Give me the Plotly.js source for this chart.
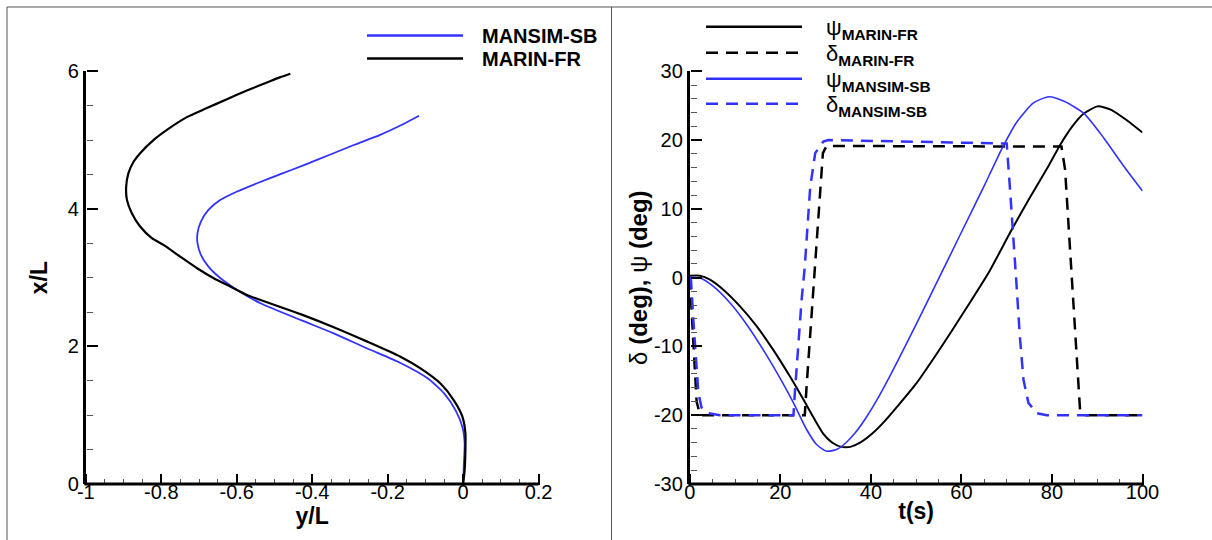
<!DOCTYPE html>
<html>
<head>
<meta charset="utf-8">
<script src="https://cdn.plot.ly/plotly-3.0.1.min.js"></script>
<style>
  html, body { margin: 0; padding: 0; background: #fff; }
  #chart { width: 1212px; height: 540px; }
</style>
</head>
<body>
<div id="chart"></div>
<script>
// ---------- Left panel: trajectories (y/L horizontal, x/L vertical) ----------
const mansimTrajY = [0, 0.002, 0.004, -0.002, -0.02, -0.051, -0.095, -0.166, -0.254, -0.343, -0.431, -0.537, -0.599, -0.643, -0.675, -0.695, -0.704, -0.704, -0.695, -0.675, -0.643, -0.599, -0.546, -0.484, -0.42, -0.355, -0.29, -0.22, -0.165, -0.117];
const mansimTrajX = [0, 0.30, 0.59, 0.83, 1.07, 1.32, 1.54, 1.76, 1.97, 2.19, 2.385, 2.628, 2.822, 2.992, 3.161, 3.331, 3.501, 3.647, 3.815, 3.985, 4.131, 4.252, 4.373, 4.505, 4.640, 4.783, 4.928, 5.075, 5.215, 5.355];

const marinTrajY = [0, 0.004, 0.006, 0.006, -0.002, -0.025, -0.06, -0.113, -0.166, -0.254, -0.343, -0.431, -0.573, -0.617, -0.661, -0.705, -0.75, -0.794, -0.825, -0.856, -0.878, -0.891, -0.893, -0.887, -0.873, -0.856, -0.82, -0.785, -0.732, -0.679, -0.626, -0.573, -0.52, -0.484, -0.458];
const marinTrajX = [0, 0.2, 0.49, 0.74, 0.98, 1.22, 1.46, 1.68, 1.85, 2.07, 2.28, 2.47, 2.749, 2.87, 2.992, 3.137, 3.306, 3.476, 3.574, 3.743, 3.937, 4.131, 4.324, 4.519, 4.688, 4.81, 5.004, 5.149, 5.334, 5.465, 5.595, 5.721, 5.837, 5.915, 5.964];

// ---------- Right panel: heading psi and rudder delta vs time ----------
const psiMarinT = [0, 2.25, 4.46, 7.4, 11.1, 14.8, 18.4, 22.1, 25.1, 27.3, 29.5, 31.5, 33.5, 35.5, 37.6, 40.5, 43, 46, 50, 54, 58, 62, 66, 71.1, 75, 79.3, 81.8, 84.5, 86.9, 90.1, 93.1, 96.6, 100];
const psiMarinV = [0.28, 0.28, -0.3, -1.76, -4.18, -7.09, -10.47, -14.35, -17.73, -20.3, -22.7, -24.0, -24.6, -24.6, -24.0, -22.56, -20.9, -18.6, -15.4, -11.6, -7.6, -3.5, 0.7, 6.96, 11.5, 16.3, 19.3, 22.0, 23.8, 24.9, 24.4, 22.85, 21.1];

const deltaMarinT = [0, 0.4, 0.9, 1.5, 2.3, 25.4, 25.8, 26.6, 27.3, 28.0, 28.8, 29.4, 30.2, 82.1, 82.9, 83.6, 84.4, 85.1, 85.8, 86.2, 87.3, 100];
const deltaMarinV = [0, -5, -12, -18, -20, -20, -15.8, -8.0, -1.3, 6.0, 13.2, 18.1, 19.15, 19.05, 15.7, 8.4, -1.3, -8.5, -15.8, -19.2, -20, -20];

const psiMansimT = [0, 2.25, 5.2, 8.9, 12.6, 16.2, 19.9, 22.9, 25.8, 28.0, 30.2, 32.4, 34.5, 36.5, 39, 42, 45, 50, 55, 60, 65, 68.9, 72.2, 75.9, 79.3, 82.8, 87.1, 91.4, 95.7, 100];
const psiMansimV = [0, -0.06, -1.28, -3.69, -6.84, -10.47, -14.58, -18.21, -22.08, -24.26, -25.23, -25.0, -24.0, -22.6, -20.3, -17.0, -13.3, -6.8, -0.1, 6.6, 13.3, 18.7, 22.6, 25.4, 26.3, 25.6, 23.85, 20.35, 16.35, 12.6];

const deltaMansimT = [0, 0.26, 0.78, 1.3, 1.9, 2.6, 4.1, 6.6, 22.9, 23.2, 24.0, 24.7, 25.4, 25.8, 26.6, 27.7, 29.5, 30.6, 70.0, 70.7, 71.5, 72.2, 72.9, 73.7, 74.8, 76.6, 78.8, 100];
const deltaMansimV = [0, -0.3, -6.1, -11.9, -16.8, -18.9, -19.7, -20, -20, -16.8, -9.5, -3.2, 1.6, 6.0, 13.2, 18.1, 19.8, 20.0, 19.5, 13.2, 6.0, -1.3, -8.5, -14.8, -18.2, -19.7, -20, -20];

// ---------- Tick labels and minor tick positions ----------
const leftXTicks = [-1, -0.8, -0.6, -0.4, -0.2, 0, 0.2];
const leftXTickText = ["-1", "-0.8", "-0.6", "-0.4", "-0.2", "0", "0.2"];
const leftXMinor = [-0.95, -0.9, -0.85, -0.75, -0.7, -0.65, -0.55, -0.5, -0.45, -0.35, -0.3, -0.25, -0.15, -0.1, -0.05, 0.05, 0.1, 0.15];
const leftYTicks = [0, 2, 4, 6];
const leftYTickText = ["0", "2", "4", "6"];
const leftYMinor = [0.5, 1, 1.5, 2.5, 3, 3.5, 4.5, 5, 5.5];
const rightXTicks = [0, 20, 40, 60, 80, 100];
const rightXTickText = ["0", "20", "40", "60", "80", "100"];
const rightXMinor = [5, 10, 15, 25, 30, 35, 45, 50, 55, 65, 70, 75, 85, 90, 95];
const rightYTicks = [-30, -20, -10, 0, 10, 20, 30];
const rightYTickText = ["-30", "-20", "-10", "0", "10", "20", "30"];
const rightYMinor = [-28, -26, -24, -22, -18, -16, -14, -12, -8, -6, -4, -2, 2, 4, 6, 8, 12, 14, 16, 18, 22, 24, 26, 28];

const BLUE = "rgb(50,50,255)";
const BLACK = "#000000";
const FONT = "Liberation Sans, Arial, sans-serif";

function carrier(xa, ya) {
  return { x: [], y: [], xaxis: xa, yaxis: ya, mode: "lines", showlegend: false, hoverinfo: "skip" };
}

const traces = [
  { x: mansimTrajY, y: mansimTrajX, xaxis: "x", yaxis: "y", mode: "lines", name: "<b>MANSIM-SB</b>",
    line: { color: BLUE, width: 1.8, shape: "spline", smoothing: 0.6 }, legend: "legend" },
  { x: marinTrajY, y: marinTrajX, xaxis: "x", yaxis: "y", mode: "lines", name: "<b>MARIN-FR</b>",
    line: { color: BLACK, width: 2.2, shape: "spline", smoothing: 0.6 }, legend: "legend2" },

  { x: psiMarinT, y: psiMarinV, xaxis: "x2", yaxis: "y2", mode: "lines", name: "ψ<sub><b>MARIN-FR</b></sub>",
    line: { color: BLACK, width: 2, shape: "spline", smoothing: 0.6 }, legend: "legend3" },
  { x: deltaMarinT, y: deltaMarinV, xaxis: "x2", yaxis: "y2", mode: "lines", name: "δ<sub><b>MARIN-FR</b></sub>",
    line: { color: BLACK, width: 2.5, dash: "12px,8px" }, legend: "legend4" },
  { x: psiMansimT, y: psiMansimV, xaxis: "x2", yaxis: "y2", mode: "lines", name: "ψ<sub><b>MANSIM-SB</b></sub>",
    line: { color: BLUE, width: 1.6, shape: "spline", smoothing: 0.6 }, legend: "legend5" },
  { x: deltaMansimT, y: deltaMansimV, xaxis: "x2", yaxis: "y2", mode: "lines", name: "δ<sub><b>MANSIM-SB</b></sub>",
    line: { color: BLUE, width: 2.5, dash: "12px,8px" }, legend: "legend6" },

  // empty carriers for the tick-only overlay axes
  carrier("x", "y3"), carrier("x", "y5"), carrier("x2", "y4"), carrier("x2", "y6"),
  carrier("x5", "y"), carrier("x6", "y2")
];

const tickFont = { family: FONT, size: 20, color: "#000" };
const titleFont = { family: FONT, size: 23, color: "#000" };

const bottomPx = 484, topPx = 71.3;
const yDomain = [(540 - bottomPx) / 540, (540 - topPx) / 540];
const xDomL = [85.8 / 1212, 538.6 / 1212];
const xDomR = [689.8 / 1212, 1142.5 / 1212];
const majorLen = 11, minorLen = 6;
// x axes sit one tick length above the frame line so their outside ticks end on it
const xAxisPos = (540 - bottomPx + majorLen) / 540;
const xMinorPos = (540 - bottomPx + minorLen) / 540;

function xMain(extra) {
  return Object.assign({
    showgrid: false, zeroline: false, showline: false,
    anchor: "free", position: xAxisPos,
    ticks: "outside", ticklen: majorLen, tickwidth: 2, tickcolor: "#000",
    tickfont: tickFont, tickmode: "array", ticklabelstandoff: -10
  }, extra);
}
function yMain(extra) {
  return Object.assign({
    showgrid: false, zeroline: false, showline: true, linecolor: "#000", linewidth: 3,
    ticks: "", tickfont: tickFont, tickmode: "array"
  }, extra);
}
// y overlay axis on the right side so that "outside" ticks point into the plot
function tickAxisY(over, range, pos, vals, len, width, color) {
  return {
    overlaying: over, anchor: "free", position: pos, side: "right", range: range,
    showgrid: false, zeroline: false, showline: false, showticklabels: false,
    ticks: "outside", ticklen: len, tickwidth: width, tickcolor: color,
    tickmode: "array", tickvals: vals
  };
}
function tickAxisX(over, range, vals) {
  return {
    overlaying: over, anchor: "free", position: xMinorPos, side: "bottom", range: range,
    showgrid: false, zeroline: false, showline: false, showticklabels: false,
    ticks: "outside", ticklen: minorLen, tickwidth: 1, tickcolor: "#555",
    tickmode: "array", tickvals: vals
  };
}

function oneLegend(px, topPxL, size, iw) {
  return {
    x: px / 1212, y: 1 - topPxL / 540, xanchor: "left", yanchor: "top",
    bgcolor: "rgba(0,0,0,0)", borderwidth: 0, itemwidth: iw, tracegroupgap: 0,
    font: { family: FONT, size: size, color: "#000" }, itemclick: false, itemdoubleclick: false
  };
}

function paperLine(x0, x1, y0, y1, color, width) {
  return { type: "line", xref: "paper", yref: "paper", x0: x0, x1: x1, y0: y0, y1: y1, line: { color: color, width: width } };
}

const layout = {
  width: 1212, height: 540,
  margin: { l: 0, r: 0, t: 0, b: 0 },
  paper_bgcolor: "#fff", plot_bgcolor: "rgba(0,0,0,0)",
  font: { family: FONT, color: "#000" },
  showlegend: true,
  xaxis: xMain({
    domain: xDomL, range: [-1, 0.2],
    tickvals: leftXTicks, ticktext: leftXTickText,
    title: { text: "<b>y/L</b>", font: titleFont, standoff: 0 }
  }),
  yaxis: yMain({
    domain: yDomain, range: [0, 6], anchor: "x",
    tickvals: leftYTicks, ticktext: leftYTickText,
    title: { text: "<b>x/L</b>", font: titleFont, standoff: 14 }
  }),
  xaxis2: xMain({
    domain: xDomR, range: [0, 100],
    tickvals: rightXTicks, ticktext: rightXTickText,
    title: { text: "<b>t(s)</b>", font: titleFont, standoff: 0 }
  }),
  yaxis2: yMain({
    domain: yDomain, range: [-30, 30], anchor: "x2",
    tickvals: rightYTicks, ticktext: rightYTickText,
    title: { text: "δ <b>(deg),</b> ψ <b>(deg)</b>", font: { family: FONT, size: 24, color: "#000" }, standoff: 0 }
  }),
  yaxis3: tickAxisY("y", [0, 6], xDomL[0], leftYTicks, majorLen, 2, "#000"),
  yaxis4: tickAxisY("y2", [-30, 30], xDomR[0], rightYTicks, majorLen, 2, "#000"),
  yaxis5: tickAxisY("y", [0, 6], xDomL[0], leftYMinor, minorLen, 1, "#555"),
  yaxis6: tickAxisY("y2", [-30, 30], xDomR[0], rightYMinor, minorLen, 1, "#555"),
  xaxis5: tickAxisX("x", [-1, 0.2], leftXMinor),
  xaxis6: tickAxisX("x2", [0, 100], rightXMinor),

  legend: oneLegend(362, 16, 20, 110),
  legend2: oneLegend(362, 39, 20, 110),
  legend3: oneLegend(701, 6, 22, 115),
  legend4: oneLegend(701, 32, 22, 115),
  legend5: oneLegend(701, 58, 22, 115),
  legend6: oneLegend(701, 83, 22, 115),
  shapes: [
    // outer frame and divider
    paperLine(7 / 1212, 1, 1 - 7 / 540, 1 - 7 / 540, "#555", 1),
    paperLine(7 / 1212, 7 / 1212, 0, 1 - 7 / 540, "#555", 1),
    paperLine(611.5 / 1212, 611.5 / 1212, 0, 1 - 7 / 540, "#555", 1),
    // bottom axis lines of both panels
    paperLine(xDomL[0] - 1.5 / 1212, xDomL[1], yDomain[0], yDomain[0], "#000", 3),
    paperLine(xDomR[0] - 1.5 / 1212, xDomR[1], yDomain[0], yDomain[0], "#000", 3)
  ]
};

Plotly.newPlot("chart", traces, layout, { displayModeBar: false }).then(function () {
  document.querySelectorAll(".legendlines path").forEach(function (p) {
    p.setAttribute("d", "M5,0h96");
    p.style.strokeWidth = "2.5px";
  });
});
</script>
</body>
</html>
